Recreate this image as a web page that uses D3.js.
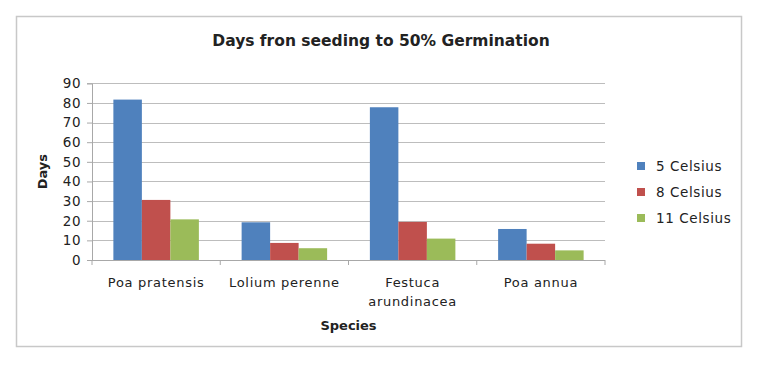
<!DOCTYPE html>
<html>
  <head>
    <meta charset="utf-8">
    <script src="https://d3js.org/d3.v7.min.js"></script>
    <style>
      body { margin: 0; background: #fff; }
      text { font-family: "DejaVu Sans", sans-serif; fill: #222; }
    </style>
  </head>
  <body>
    <div id="chart"></div>
    <script>
      // data
      var species = ["Poa pratensis", "Lolium perenne", "Festuca arundinacea", "Poa annua"];
      var seriesNames = ["5 Celsius", "8 Celsius", "11 Celsius"];
      var celsius5 = [81.7, 19.2, 77.8, 15.8];
      var celsius8 = [30.6, 8.7, 19.4, 8.3];
      var celsius11 = [20.7, 6.0, 10.9, 4.9];
      var yTicks = [0, 10, 20, 30, 40, 50, 60, 70, 80, 90];
      var colors = ["#4F81BD", "#C0504D", "#9BBB59"];

      var series = [celsius5, celsius8, celsius11];
      var W = 764, H = 369;
      var plotLeft = 92, plotRight = 605, plotTop = 83.3, plotBottom = 260;

      var svg = d3.select("#chart").append("svg")
        .attr("width", W).attr("height", H);

      // outer border
      svg.append("rect")
        .attr("x", 16.5).attr("y", 16.5)
        .attr("width", 725).attr("height", 330)
        .attr("fill", "none").attr("stroke", "#c8c8c8").attr("stroke-width", 1.5);

      svg.append("text")
        .attr("x", 381).attr("y", 46)
        .attr("text-anchor", "middle")
        .style("font-weight", "bold").style("font-size", "15.5px")
        .text("Days fron seeding to 50% Germination");

      var x = d3.scaleBand().domain(species).range([plotLeft, plotRight]).paddingInner(0).paddingOuter(0);
      var xSub = d3.scaleBand().domain(d3.range(seriesNames.length))
        .range([0, x.bandwidth()]).paddingOuter(0.75).paddingInner(0);
      var y = d3.scaleLinear().domain([0, 90]).range([plotBottom, plotTop]);

      // gridlines
      svg.append("g").selectAll("line").data(yTicks.slice(1)).enter().append("line")
        .attr("x1", plotLeft).attr("x2", plotRight)
        .attr("y1", function(d){ return Math.round(y(d)) + 0.5; })
        .attr("y2", function(d){ return Math.round(y(d)) + 0.5; })
        .attr("stroke", "#bdbdbd").attr("stroke-width", 1.2);

      // bars
      series.forEach(function(vals, i){
        svg.append("g").selectAll("rect").data(vals).enter().append("rect")
          .attr("x", function(d, j){ return x(species[j]) + xSub(i); })
          .attr("width", xSub.bandwidth())
          .attr("y", function(d){ return y(d); })
          .attr("height", function(d){ return y(0) - y(d); })
          .attr("fill", colors[i]);
      });

      // y axis
      var yAxis = d3.axisLeft(y).tickValues(yTicks).tickSize(5).tickPadding(6);
      var gy = svg.append("g")
        .attr("transform", "translate(" + plotLeft + ",0)")
        .call(yAxis);
      gy.selectAll("text").style("font-size", "13.5px").style("letter-spacing", "0.5px")
        .style("font-family", "'DejaVu Sans', sans-serif").attr("fill", "#222");
      gy.selectAll("line, path").attr("stroke", "#a8a8a8");

      // x axis: ticks at category boundaries
      svg.append("line")
        .attr("x1", plotLeft).attr("x2", plotRight)
        .attr("y1", plotBottom + 0.5).attr("y2", plotBottom + 0.5)
        .attr("stroke", "#a8a8a8");
      var bounds = species.map(function(s){ return x(s); }).concat([plotRight]);
      svg.append("g").selectAll("line").data(bounds).enter().append("line")
        .attr("x1", function(d){ return d; }).attr("x2", function(d){ return d; })
        .attr("y1", plotBottom).attr("y2", plotBottom + 5)
        .attr("stroke", "#a8a8a8");

      var labels = svg.append("g").selectAll("text").data(species).enter().append("text")
        .attr("x", function(d){ return x(d) + x.bandwidth() / 2; })
        .attr("y", 287)
        .attr("text-anchor", "middle")
        .style("font-size", "13px").style("letter-spacing", "0.7px");
      labels.each(function(d){
        var t = d3.select(this);
        var parts = d === "Festuca arundinacea" ? ["Festuca", "arundinacea"] : [d];
        parts.forEach(function(p, k){
          t.append("tspan").attr("x", x(d) + x.bandwidth() / 2)
            .attr("dy", k === 0 ? 0 : 19).text(p);
        });
      });

      svg.append("text")
        .attr("x", (plotLeft + plotRight) / 2).attr("y", 330)
        .attr("text-anchor", "middle")
        .style("font-weight", "bold").style("font-size", "13px")
        .text("Species");

      svg.append("text")
        .attr("transform", "translate(47," + (plotTop + plotBottom) / 2 + ") rotate(-90)")
        .attr("text-anchor", "middle")
        .style("font-weight", "bold").style("font-size", "13px")
        .text("Days");

      // legend
      var lg = svg.append("g").selectAll("g").data(seriesNames).enter().append("g")
        .attr("transform", function(d, i){ return "translate(641," + (166 + i * 26) + ")"; });
      lg.append("rect").attr("x", -4).attr("y", -4).attr("width", 8).attr("height", 8)
        .attr("fill", function(d, i){ return colors[i]; });
      lg.append("text").attr("x", 15).attr("y", 5)
        .style("font-size", "13.5px").style("letter-spacing", "0.6px")
        .text(function(d){ return d; });
    </script>
  </body>
</html>
